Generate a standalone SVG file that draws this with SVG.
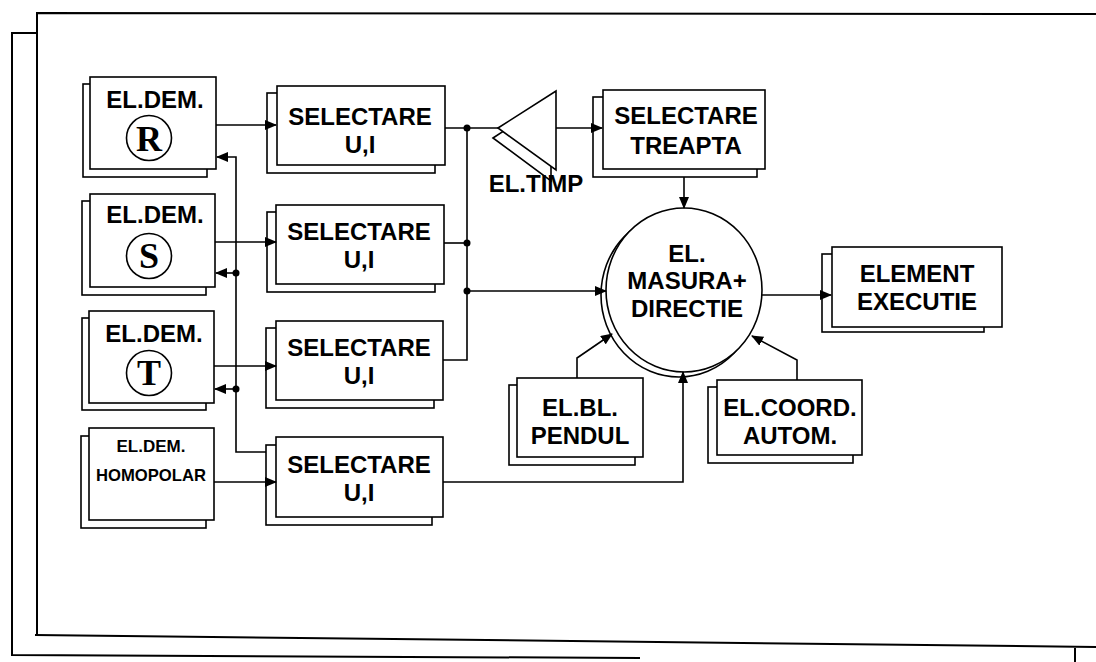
<svg xmlns="http://www.w3.org/2000/svg" width="1096" height="662" viewBox="0 0 1096 662">
<style>
.b{fill:#fff;stroke:#000;stroke-width:1.6}
.s{fill:#fff;stroke:#000;stroke-width:1.6}
.t{font-family:"Liberation Sans",Arial,sans-serif;font-weight:bold;font-size:24px;text-anchor:middle;fill:#000}
.sm{font-size:17px}
.l{font-family:"Liberation Serif","Times New Roman",serif;font-weight:bold;font-size:36px;text-anchor:middle;fill:#000}
.c{fill:none;stroke:#000;stroke-width:1.6}
.f{fill:none;stroke:#000;stroke-width:2}
</style>
<defs>
<marker id="a" markerWidth="12" markerHeight="10" refX="11" refY="5" orient="auto" markerUnits="userSpaceOnUse">
<path d="M0,0 L12,5 L0,10 z" fill="#000"/>
</marker>
</defs>
<rect width="1096" height="662" fill="#fff"/>
<g id="frame">
<path class="f" d="M37,636 L37,13 L1096,14"/>
<path class="f" d="M35,635 L1096,647"/>
<path class="f" d="M37,33 L12,33 L12,655 L640,658"/>
<path class="f" d="M1075,648 L1075,662"/>
</g>
<g id="eldem-r">
<rect class="s" x="83" y="84" width="124" height="93"/>
<rect class="b" x="90" y="77" width="126" height="92"/>
<text class="t" x="155" y="108">EL.DEM.</text>
<circle cx="149" cy="138" r="22.5" class="c"/>
<text class="l" x="149" y="151">R</text>
</g>
<g id="eldem-s">
<rect class="s" x="82" y="201" width="124" height="94"/>
<rect class="b" x="90" y="194" width="125" height="93"/>
<text class="t" x="155" y="223">EL.DEM.</text>
<circle cx="149" cy="256" r="22.5" class="c"/>
<text class="l" x="149" y="268">S</text>
</g>
<g id="eldem-t">
<rect class="s" x="82" y="318" width="124" height="92"/>
<rect class="b" x="89" y="311" width="125" height="92"/>
<text class="t" x="154" y="342">EL.DEM.</text>
<circle cx="149" cy="373" r="22.5" class="c"/>
<text class="l" x="149" y="385">T</text>
</g>
<g id="eldem-h">
<rect class="s" x="81" y="436" width="125" height="92"/>
<rect class="b" x="89" y="428" width="125" height="92"/>
<text class="t sm" x="151" y="452">EL.DEM.</text>
<text class="t sm" x="151" y="481" textLength="110" lengthAdjust="spacingAndGlyphs">HOMOPOLAR</text>
</g>
<g id="sel1">
<rect class="s" x="267" y="93" width="168" height="80"/>
<rect class="b" x="277" y="86" width="168" height="79"/>
<text class="t" x="360" y="125">SELECTARE</text>
<text class="t" x="360" y="153">U,I</text>
</g>
<g id="sel2">
<rect class="s" x="267" y="212" width="168" height="80"/>
<rect class="b" x="276" y="205" width="168" height="79"/>
<text class="t" x="359" y="240">SELECTARE</text>
<text class="t" x="359" y="268">U,I</text>
</g>
<g id="sel3">
<rect class="s" x="266" y="328" width="168" height="80"/>
<rect class="b" x="276" y="321" width="167" height="79"/>
<text class="t" x="359" y="356">SELECTARE</text>
<text class="t" x="359" y="384">U,I</text>
</g>
<g id="sel4">
<rect class="s" x="266" y="445" width="166" height="80"/>
<rect class="b" x="276" y="437" width="167" height="80"/>
<text class="t" x="359" y="473">SELECTARE</text>
<text class="t" x="359" y="501">U,I</text>
</g>
<g id="eltimp">
<path class="s" d="M493,138 L551,100 L551,181 z"/>
<path class="b" d="M498,128 L556,91 L556,170 z"/>
<text class="t" x="536" y="192">EL.TIMP</text>
</g>
<g id="seltreapta">
<rect class="s" x="593" y="97" width="164" height="80"/>
<rect class="b" x="603" y="90" width="162" height="79"/>
<text class="t" x="686" y="124">SELECTARE</text>
<text class="t" x="686" y="154">TREAPTA</text>
</g>
<g id="masura">
<ellipse class="s" cx="679" cy="295" rx="78" ry="82"/>
<ellipse class="b" cx="684" cy="290" rx="78" ry="82"/>
<text class="t" x="687" y="262">EL.</text>
<text class="t" x="687" y="289">MASURA+</text>
<text class="t" x="687" y="317">DIRECTIE</text>
</g>
<g id="executie">
<rect class="s" x="822" y="254" width="162" height="78"/>
<rect class="b" x="832" y="247" width="170" height="80"/>
<text class="t" x="917" y="282">ELEMENT</text>
<text class="t" x="917" y="310">EXECUTIE</text>
</g>
<g id="pendul">
<rect class="s" x="509" y="385" width="126" height="80"/>
<rect class="b" x="517" y="378" width="126" height="79"/>
<text class="t" x="580" y="416">EL.BL.</text>
<text class="t" x="580" y="444">PENDUL</text>
</g>
<g id="coord">
<rect class="s" x="708" y="387" width="145" height="76"/>
<rect class="b" x="717" y="380" width="145" height="75"/>
<text class="t" x="790" y="416">EL.COORD.</text>
<text class="t" x="790" y="444">AUTOM.</text>
</g>
<g id="connectors">
<path class="c" d="M216,125 H276" marker-end="url(#a)"/>
<path class="c" d="M215,242 H276" marker-end="url(#a)"/>
<path class="c" d="M214,366 H276" marker-end="url(#a)"/>
<path class="c" d="M214,482 H276" marker-end="url(#a)"/>
<path class="c" d="M266,452 H236 V157 H217" marker-end="url(#a)"/>
<path class="c" d="M236,273 H216" marker-end="url(#a)"/>
<path class="c" d="M236,389 H215" marker-end="url(#a)"/>
<circle cx="236" cy="273" r="3.5"/>
<circle cx="236" cy="389" r="3.5"/>
<path class="c" d="M445,128 H498"/>
<path class="c" d="M444,243 H467"/>
<path class="c" d="M443,360 H467 V128"/>
<path class="c" d="M467,291 H606" marker-end="url(#a)"/>
<circle cx="467" cy="128" r="3.5"/>
<circle cx="467" cy="243" r="3.5"/>
<circle cx="467" cy="291" r="3.5"/>
<path class="c" d="M556,128 H602" marker-end="url(#a)"/>
<path class="c" d="M684,177 V208" marker-end="url(#a)"/>
<path class="c" d="M762,295 H831" marker-end="url(#a)"/>
<path class="c" d="M443,482 H683 V372" marker-end="url(#a)"/>
<path class="c" d="M577,378 V358 L612,334" marker-end="url(#a)"/>
<path class="c" d="M797,380 V360 L752,336" marker-end="url(#a)"/>
</g>
</svg>
